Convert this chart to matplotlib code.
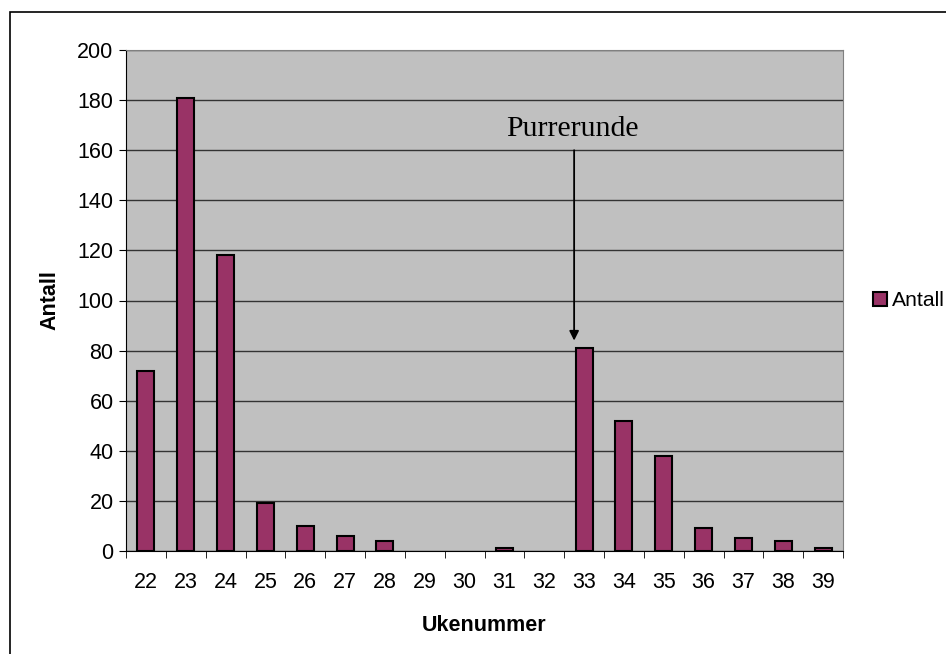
import matplotlib
matplotlib.use("Agg")
import matplotlib.pyplot as plt
from matplotlib.patches import Rectangle
import numpy as np

weeks = ["22", "23", "24", "25", "26", "27", "28", "29", "30",
         "31", "32", "33", "34", "35", "36", "37", "38", "39"]
counts = [72, 181, 118, 19, 10, 6, 4, 0, 0, 1, 0, 81, 52, 38, 9, 5, 4, 1]
y_ticks = [0, 20, 40, 60, 80, 100, 120, 140, 160, 180, 200]

plt.rcParams['font.family'] = ['Liberation Sans', 'DejaVu Sans']

fig = plt.figure(figsize=(9.46, 6.54), dpi=100)
# outer chart border (only left/top visible, like the cropped Excel frame)
fig.patches.append(Rectangle((10 / 946, -0.05), 1.2, 1 - 12 / 654 + 0.05,
                             transform=fig.transFigure, fill=False,
                             edgecolor='black', linewidth=1.2))

ax = fig.add_axes([126 / 946, 1 - 551 / 654, (843 - 126) / 946, (551 - 50) / 654])
ax.set_facecolor('#c0c0c0')

x = np.arange(len(weeks))
edge = ['black' if c > 0 else 'none' for c in counts]
ax.bar(x, counts, width=0.43, color='#993366', edgecolor=edge,
       linewidth=1.5, label='Antall', zorder=3)

ax.set_xlim(-0.5, len(weeks) - 0.5)
ax.set_ylim(0, 200)
ax.set_yticks(y_ticks)
ax.tick_params(axis='y', labelsize=15.5, length=5, direction='out', pad=4)
ax.set_xticks(x)
ax.set_xticklabels(weeks)
ax.set_xticks(np.arange(len(weeks) + 1) - 0.5, minor=True)
ax.tick_params(axis='x', which='major', length=0, labelsize=15.5, pad=15)
ax.tick_params(axis='x', which='minor', length=5, direction='out')
ax.yaxis.grid(True, color='#333333', linewidth=1)
ax.set_axisbelow(True)
for side in ['top', 'right']:
    ax.spines[side].set_color('#808080')
for side in ['left', 'bottom']:
    ax.spines[side].set_color('black')

ax.set_xlabel('Ukenummer', fontsize=15.5, fontweight='bold', labelpad=16)
ax.set_ylabel('Antall', fontsize=15.5, fontweight='bold', labelpad=12)

ax.annotate('', xy=(10.75, 84), xytext=(10.75, 160),
            arrowprops=dict(arrowstyle='-|>', color='black', lw=1.3,
                            mutation_scale=14, shrinkA=0, shrinkB=0))
ax.text(10.7, 168.5, 'Purrerunde', fontsize=21.5, ha='center', va='center',
        family=['Liberation Serif', 'DejaVu Serif'])

leg = ax.legend(loc='center left', bbox_to_anchor=(1.03, 0.5), frameon=False,
                fontsize=15.2, handlelength=0.65, handleheight=0.65,
                handletextpad=0.25, borderaxespad=0)

fig.savefig('out.png', dpi=100)
